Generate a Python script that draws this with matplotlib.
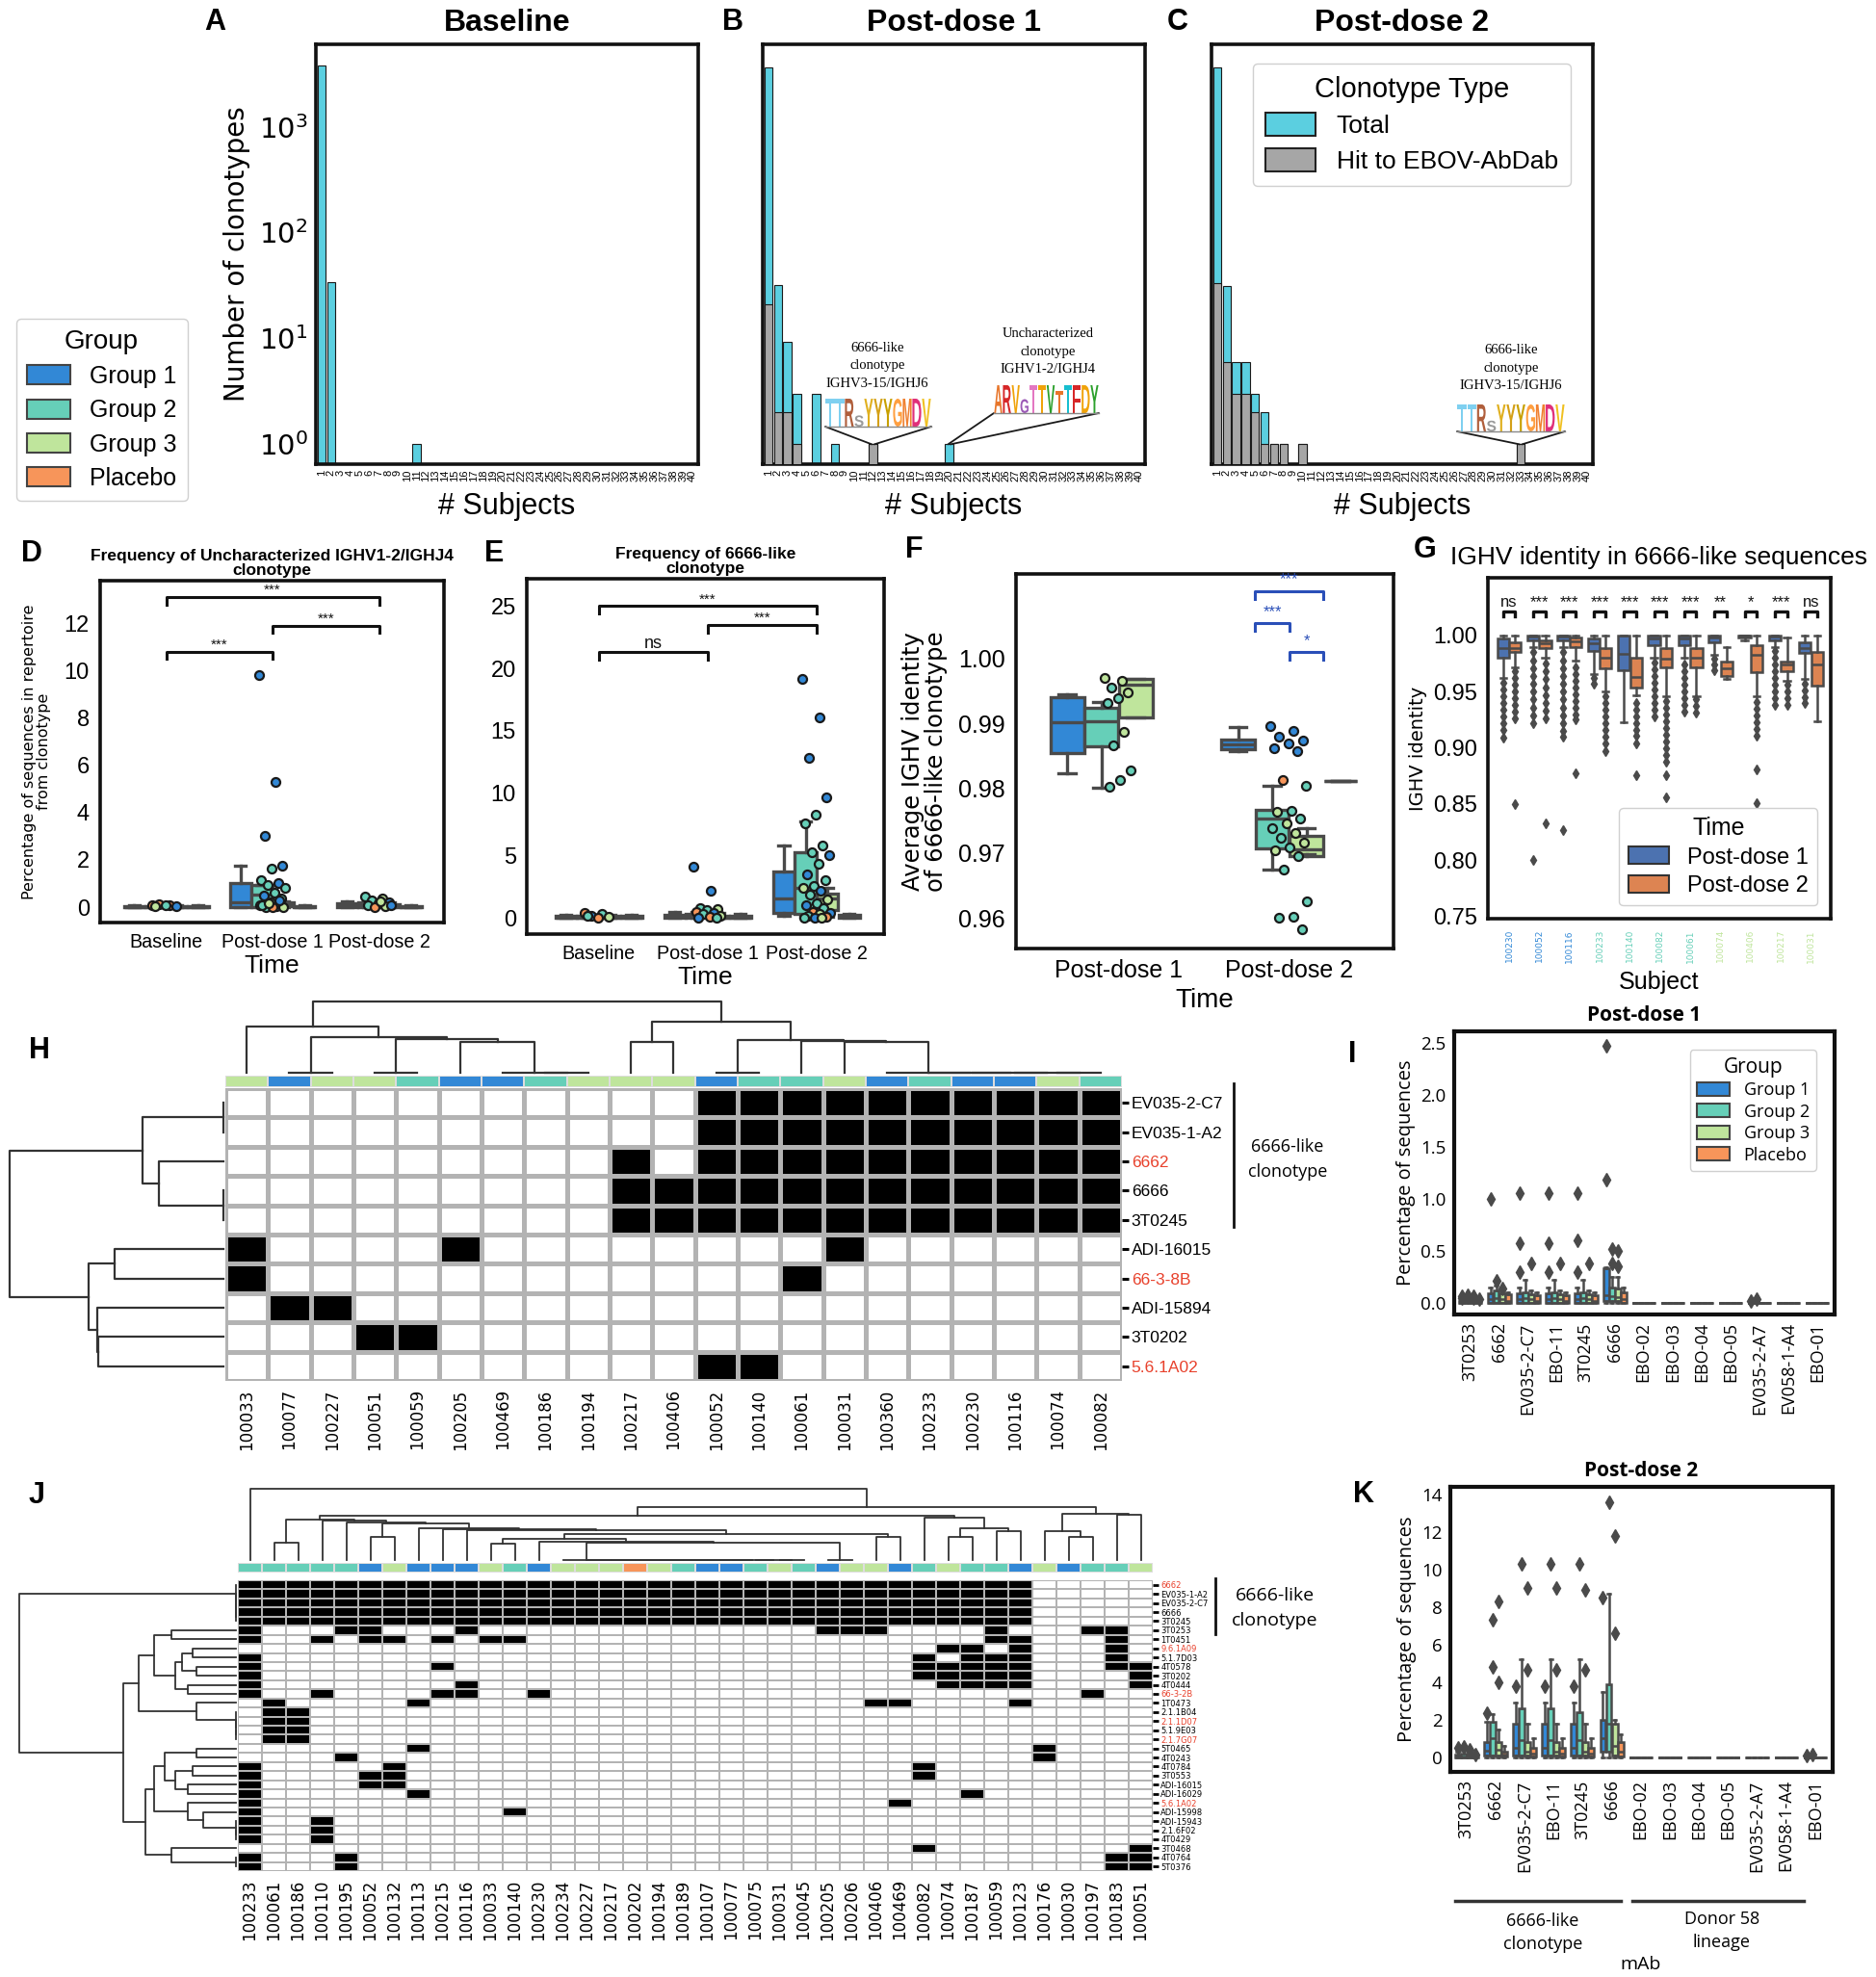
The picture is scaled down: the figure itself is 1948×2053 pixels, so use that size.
import numpy as np
import matplotlib
matplotlib.use('Agg')
import matplotlib.pyplot as plt
import matplotlib.ticker as mticker
import matplotlib.transforms as mtransforms
from matplotlib import font_manager
from matplotlib.patches import Patch, PathPatch
from matplotlib.textpath import TextPath
from matplotlib.font_manager import FontProperties
from matplotlib.colors import ListedColormap
from matplotlib.lines import Line2D

_names = {f.name for f in font_manager.fontManager.ttflist}
HAS_NARROW = 'Liberation Sans Narrow' in _names
NARROW = 'Liberation Sans Narrow' if HAS_NARROW else 'Liberation Sans'
SANS = 'DejaVu Sans'
OPEN = 'Open Sans' if 'Open Sans' in _names else 'DejaVu Sans'
ARIAL = 'Liberation Sans'
SERIF = 'Liberation Serif'
plt.rcParams['mathtext.fontset'] = 'custom'
plt.rcParams['mathtext.rm'] = NARROW
plt.rcParams['mathtext.it'] = NARROW + ':italic'
plt.rcParams['mathtext.bf'] = NARROW + ':bold'

# ---------------- data ----------------
GROUP_NAMES = ['Group 1', 'Group 2', 'Group 3', 'Placebo']
GROUP_COLORS = ['#3288d6', '#66cfb8', '#bfe59c', '#f7955a']
TIME_NAMES = ['Post-dose 1', 'Post-dose 2']
TIME_COLORS = ['#4c72b0', '#dd8452']
CYAN = '#5bcfe0'
HITGRAY = '#a6a6a6'
LINE = '#4a4a4a'
RED = '#e8412c'
SIG_BLUE = '#2a4fb8'

# A-C: number of clonotypes shared by N subjects
subject_bins = list(range(1, 41))
base_total_bins = [1, 2, 11]
base_total = [3800, 34, 1]
base_hit_bins = []
base_hit = []
pd1_total_bins = [1, 2, 3, 4, 6, 8, 12, 20]
pd1_total = [3650, 32, 9.3, 3, 3, 1, 1, 1]
pd1_hit_bins = [1, 2, 3, 4, 12]
pd1_hit = [21, 2, 2, 1, 1]
pd2_total_bins = [1, 2, 3, 4, 5, 6, 7, 8, 10, 33]
pd2_total = [3650, 31, 6, 6, 3, 2, 1, 1, 1, 1]
pd2_hit_bins = [1, 2, 3, 4, 5, 6, 7, 8, 10, 33]
pd2_hit = [33, 6, 3, 3, 2, 1, 1, 1, 1, 1]

logo_6666 = ['T', 'T', 'R', 'S', 'Y', 'Y', 'Y', 'G', 'M', 'D', 'V']
logo_6666_colors = ['#7fd0f0', '#7fd0f0', '#b05f3c', '#9a9a9a', '#e0b020', '#d4a017', '#c8a000',
                    '#ff9f40', '#f08030', '#e0307a', '#f0c020']
logo_6666_heights = [1, 1, 1, 0.4, 1, 1, 1, 1, 1, 1, 1]
logo_unchar = ['A', 'R', 'V', 'G', 'T', 'T', 'V', 'T', 'T', 'F', 'D', 'Y']
logo_unchar_colors = ['#e8762b', '#d62728', '#f0a30a', '#9b59b6', '#e377c2', '#f0a30a',
                      '#2ca02c', '#e8762b', '#17becf', '#d62728', '#f0a30a', '#2ca02c']
logo_unchar_heights = [1, 1, 1, 0.5, 1, 1, 1, 0.8, 1, 1, 1, 1]

time3 = ['Baseline', 'Post-dose 1', 'Post-dose 2']
# D: (q1, median, q3, whisker low, whisker high) per group, per time
d_stats = [
    [(0.0, 0.02, 0.06, 0.0, 0.1), (0.0, 0.02, 0.06, 0.0, 0.1), (0.0, 0.02, 0.06, 0.0, 0.1), (0.0, 0.02, 0.06, 0.0, 0.1)],
    [(0.0, 0.22, 1.0, 0.0, 1.77), (0.0, 0.55, 0.95, 0.0, 0.95), (0.03, 0.1, 0.2, 0.0, 0.25), (0.0, 0.02, 0.06, 0.0, 0.08)],
    [(0.02, 0.08, 0.15, 0.0, 0.25), (0.02, 0.1, 0.2, 0.0, 0.3), (0.0, 0.06, 0.12, 0.0, 0.2), (0.0, 0.02, 0.06, 0.0, 0.1)],
]
d_points = [
    [0.1, 0.08, 0.12, 0.05, 0.1, 0.06],
    [9.8, 5.3, 3.0, 1.77, 1.63, 1.15, 1.0, 0.95, 0.8, 0.6, 0.5, 0.35, 0.2, 0.1, 0.05, 0.02, 0.0, 0.0, 0.1, 0.3, 0.15],
    [0.45, 0.35, 0.3, 0.2, 0.15, 0.1, 0.05, 0.0, 0.1, 0.25],
]
d_point_groups = [
    [3, 3, 3, 0, 1, 2],
    [0, 0, 0, 0, 1, 1, 0, 1, 1, 1, 0, 1, 2, 3, 0, 1, 2, 3, 1, 0, 2],
    [1, 2, 1, 0, 3, 1, 2, 3, 0, 2],
]
d_sig = [(0, 2, 13.1, '***'), (1, 2, 11.9, '***'), (0, 1, 10.8, '***')]

# E: frequency of 6666-like clonotype
e_stats = [
    [(0.0, 0.05, 0.15, 0.0, 0.25), (0.0, 0.05, 0.15, 0.0, 0.25), (0.0, 0.05, 0.15, 0.0, 0.25), (0.0, 0.05, 0.15, 0.0, 0.25)],
    [(0.0, 0.1, 0.25, 0.0, 0.45), (0.0, 0.1, 0.3, 0.0, 0.5), (0.0, 0.05, 0.2, 0.0, 0.4), (0.0, 0.05, 0.15, 0.0, 0.3)],
    [(0.39, 1.54, 3.75, 0.13, 5.78), (0.31, 2.44, 5.3, 0.1, 7.7), (0.64, 1.54, 1.93, 0.1, 2.44), (0.0, 0.1, 0.26, 0.0, 0.35)],
]
e_points = [
    [0.4, 0.3, 0.2, 0.1, 0.05, 0.15],
    [4.1, 2.2, 0.8, 0.7, 0.6, 0.5, 0.4, 0.3, 0.2, 0.1, 0.05, 0.0],
    [19.2, 16.1, 12.8, 9.7, 8.3, 7.6, 5.8, 5.3, 5.0, 4.3, 3.5, 3.0, 2.6, 2.4, 2.2, 1.9, 1.5,
     1.2, 1.0, 0.8, 0.5, 0.4, 0.3, 0.2, 0.1, 0.05, 0.0, 0.0],
]
e_point_groups = [
    [3, 1, 0, 2, 3, 1],
    [0, 0, 1, 2, 1, 3, 0, 1, 2, 3, 0, 1],
    [0, 0, 0, 0, 1, 1, 1, 1, 0, 1, 0, 1, 1, 2, 0, 1, 2, 1, 0, 1, 3, 0, 2, 1, 3, 0, 1, 2],
]
e_sig = [(0, 2, 25.0, '***'), (1, 2, 23.5, '***'), (0, 1, 21.3, 'ns')]

# F: average IGHV identity of 6666-like clonotype
f_stats = [
    [(0.98543, 0.99012, 0.99407, 0.98237, 0.99447), (0.98642, 0.99027, 0.99235, 0.98, 0.99333),
     (0.99086, 0.9960, 0.99689, 0.99086, 0.99689), None],
    [(0.9860, 0.9867, 0.9875, 0.9857, 0.9894), (0.97077, 0.97531, 0.97664, 0.9675, 0.9804),
     (0.96948, 0.97062, 0.97259, 0.9698, 0.97383), (0.9811, 0.9811, 0.9811, 0.9811, 0.9811)],
]
f_points = [
    [0.99694, 0.99654, 0.99556, 0.99481, 0.99383, 0.99309, 0.98874, 0.98657, 0.98272, 0.98123, 0.98025],
    [0.98963, 0.98889, 0.9879, 0.9874, 0.9869, 0.9862, 0.9857, 0.98123, 0.9804, 0.97654, 0.9763,
     0.9753, 0.9746, 0.9738, 0.9731, 0.9723, 0.9716, 0.9709, 0.9704, 0.9696, 0.9674, 0.9625,
     0.96025, 0.9600, 0.9583],
]
f_point_groups = [
    [2, 2, 1, 2, 1, 1, 2, 1, 1, 1, 1],
    [0, 0, 0, 0, 0, 0, 0, 3, 1, 1, 2, 1, 2, 1, 2, 1, 2, 1, 2, 1, 1, 1, 1, 1, 1],
]
f_sig = [(-0.2, 0.2, 1.0104, '***'), (-0.2, 0.0, 1.0054, '***'), (0.0, 0.2, 1.0010, '*')]

# G: IGHV identity per subject
g_subjects = ['100230', '100052', '100116', '100233', '100140', '100082', '100061',
              '100074', '100406', '100217', '100031']
g_subject_group = [0, 0, 0, 1, 1, 1, 1, 2, 2, 2, 2]
g_sig = ['ns', '***', '***', '***', '***', '***', '***', '**', '*', '***', 'ns']
g_pd1 = [(0.980, 0.989, 0.997, 0.962, 1.0), (0.996, 0.999, 1.0, 0.99, 1.0), (0.996, 0.999, 1.0, 0.99, 1.0),
         (0.986, 0.993, 0.997, 0.966, 1.0), (0.969, 0.984, 1.0, 0.923, 1.0), (0.9914, 0.997, 1.0, 0.98, 1.0),
         (0.9914, 0.997, 1.0, 0.98, 1.0), (0.9943, 0.998, 1.0, 0.983, 1.0), (0.9986, 1.0, 1.0, 0.996, 1.0),
         (0.9957, 0.999, 1.0, 0.99, 1.0), (0.9843, 0.9886, 0.9943, 0.961, 1.0)]
g_pd1_fliers = [[0.958, 0.952, 0.946, 0.94, 0.934, 0.928, 0.922, 0.916, 0.909],
                [0.985, 0.978, 0.971, 0.964, 0.957, 0.95, 0.943, 0.936, 0.929, 0.922, 0.80],
                [0.985, 0.978, 0.971, 0.964, 0.957, 0.95, 0.943, 0.936, 0.929, 0.922, 0.915, 0.91, 0.827],
                [0.962, 0.957],
                [],
                [0.976, 0.97, 0.964, 0.958, 0.952, 0.946, 0.94, 0.934, 0.928],
                [0.974, 0.968, 0.962, 0.956, 0.95, 0.944, 0.938, 0.932],
                [0.979, 0.974, 0.969],
                [],
                [0.986, 0.98, 0.974, 0.968, 0.962, 0.956, 0.95, 0.944, 0.938],
                [0.957, 0.951, 0.945, 0.94]]
g_pd2 = [(0.985, 0.989, 0.994, 0.972, 1.0), (0.989, 0.993, 0.996, 0.98, 1.0), (0.990, 0.995, 0.9986, 0.978, 1.0),
         (0.971, 0.98, 0.9886, 0.95, 1.0), (0.954, 0.963, 0.98, 0.947, 1.0), (0.9714, 0.979, 0.9886, 0.946, 1.0),
         (0.9714, 0.98, 0.9886, 0.946, 1.0), (0.964, 0.971, 0.977, 0.961, 0.99), (0.967, 0.983, 0.9914, 0.946, 1.0),
         (0.9686, 0.974, 0.977, 0.96, 0.998), (0.9557, 0.974, 0.9857, 0.924, 1.0)]
g_pd2_fliers = [[0.968, 0.962, 0.956, 0.95, 0.944, 0.938, 0.932, 0.926, 0.85],
                [0.975, 0.968, 0.961, 0.954, 0.947, 0.94, 0.933, 0.926, 0.833],
                [0.972, 0.966, 0.96, 0.954, 0.948, 0.942, 0.936, 0.93, 0.925, 0.877],
                [0.946, 0.94, 0.934, 0.928, 0.922, 0.916, 0.91, 0.904, 0.897],
                [0.94, 0.934, 0.928, 0.922, 0.916, 0.911, 0.904, 0.876],
                [0.942, 0.936, 0.93, 0.924, 0.918, 0.912, 0.906, 0.9, 0.894, 0.888, 0.876, 0.856],
                [0.943, 0.937, 0.931],
                [],
                [0.941, 0.935, 0.929, 0.923, 0.917, 0.911, 0.881, 0.851],
                [0.956, 0.95, 0.944, 0.938],
                []]

# H: EBOV-AbDab hits per subject, post-dose 1
h_cols = ['100033', '100077', '100227', '100051', '100059', '100205', '100469', '100186', '100194', '100217',
          '100406', '100052', '100140', '100061', '100031', '100360', '100233', '100230', '100116', '100074', '100082']
h_col_group = [2, 0, 2, 2, 1, 0, 0, 1, 2, 2, 2, 0, 1, 1, 2, 0, 1, 0, 0, 2, 1]
h_rows = ['EV035-2-C7', 'EV035-1-A2', '6662', '6666', '3T0245', 'ADI-16015', '66-3-8B', 'ADI-15894',
          '3T0202', '5.6.1A02']
h_red_rows = [2, 6, 9]
h_black = [
    [11, 12, 13, 14, 15, 16, 17, 18, 19, 20],
    [11, 12, 13, 14, 15, 16, 17, 18, 19, 20],
    [9, 11, 12, 13, 14, 15, 16, 17, 18, 19, 20],
    [9, 10, 11, 12, 13, 14, 15, 16, 17, 18, 19, 20],
    [9, 10, 11, 12, 13, 14, 15, 16, 17, 18, 19, 20],
    [0, 5, 14],
    [0, 13],
    [1, 2],
    [3, 4],
    [11, 12],
]

# J: EBOV-AbDab hits per subject, post-dose 2
j_cols = ['100233', '100061', '100186', '100110', '100195', '100052', '100132', '100113', '100215', '100116',
          '100033', '100140', '100230', '100234', '100227', '100217', '100202', '100194', '100189', '100107',
          '100077', '100075', '100031', '100045', '100205', '100206', '100406', '100469', '100082', '100074',
          '100187', '100059', '100123', '100176', '100030', '100197', '100183', '100051']
j_col_group = [1, 1, 1, 1, 1, 0, 2, 0, 0, 0, 2, 1, 0, 2, 2, 2, 3, 2, 1, 0, 0, 1, 2, 1, 0, 2, 2, 0, 1, 2,
               1, 1, 0, 2, 0, 1, 1, 2]
j_rows = ['6662', 'EV035-1-A2', 'EV035-2-C7', '6666', '3T0245', '3T0253', '1T0451', '9.6.1A09', '5.1.7D03',
          '4T0578', '3T0202', '4T0444', '66-3-2B', '1T0473', '2.1.1B04', '2.1.1D07', '5.1.9E03', '2.1.7G07',
          '5T0465', '4T0243', '4T0784', '3T0553', 'ADI-16015', 'ADI-16029', '5.6.1A02', 'ADI-15998',
          'ADI-15943', '2.1.6F02', '4T0429', '3T0468', '4T0764', '5T0376']
j_red_rows = [0, 7, 12, 15, 17, 24]
j_clonotype_cols = list(range(33))
j_black = [
    j_clonotype_cols, j_clonotype_cols, j_clonotype_cols, j_clonotype_cols, j_clonotype_cols,
    [0, 4, 5, 9, 24, 25, 26, 31, 35, 36],
    [0, 3, 5, 6, 8, 10, 11, 31, 32, 36],
    [29, 30, 32, 36],
    [0, 28, 30, 31, 32, 36],
    [0, 8, 28, 29, 30, 31, 32, 36, 37],
    [0, 28, 29, 30, 31, 32, 37],
    [0, 9, 29, 30, 31, 32, 37],
    [0, 3, 8, 9, 12, 35],
    [1, 7, 26, 27, 32],
    [1, 2], [1, 2], [1, 2], [1, 2],
    [7, 33],
    [4, 33],
    [0, 6, 28],
    [0, 5, 6, 28],
    [0, 5, 6],
    [0, 7, 30],
    [0, 27],
    [0, 11],
    [0, 3], [0, 3], [0, 3],
    [28, 37],
    [0, 4, 36, 37],
    [0, 4, 36, 37],
]


def zchain(leaves):
    if len(leaves) == 1:
        return leaves[0]
    return [leaves[0], zchain(leaves[1:]), 0.0]


# dendrograms: [left, right, height]
h_col_tree = [[0, [[1, 2, 0.0], [[3, 4, 0.0], [5, zchain([6, 7, 8]), 0.427], 0.471], 0.502], 0.648],
              [[9, 10, 0.427], [[11, 12, 0.0], [13, [14, zchain([15, 16, 17, 18, 19, 20]), 0.427], 0.449], 0.463], 0.714],
              1.0]
h_row_tree = [[[0, 1, 0.0], [2, [3, 4, 0.0], 0.30], 0.38],
              [[5, 6, 0.51], [7, [8, 9, 0.585], 0.59], 0.63], 1.0]
_j818 = [zchain(list(range(13, 24))), [24, 25, 0.0], 0.245]
_j840 = [[[10, 11, 0.235], [12, _j818, 0.26], 0.30], [26, 27, 0.33], 0.37]
_j150 = [[1, 2, 0.24], [3, [4, [[5, 6, 0.33], [7, [8, [9, _j840, 0.42], 0.435], 0.45], 0.51], 0.53], 0.56], 0.57]
_j1225 = [28, [[29, 30, 0.33], [31, 32, 0.41], 0.45], 0.60]
_jR = [[33, [34, 35, 0.33], 0.40], [36, 37, 0.636], 0.65]
j_col_tree = [0, [[_j150, _j1225, 0.627], _jR, 0.747], 1.0]
_jA1 = [[5, 6, 0.30], [[[7, 8, 0.2], [9, 10, 0.18], 0.25], [11, 12, 0.22], 0.28], 0.38]
_jA2 = [13, zchain([14, 15, 16, 17]), 0.18]
_jA3 = [[18, 19, 0.18], [[20, 21, 0.2], [22, 23, 0.22], 0.28], 0.33]
_jA4 = [24, [25, zchain([26, 27, 28]), 0.15], 0.22]
_jA5 = [29, [30, 31, 0.0], 0.30]
j_row_tree = [zchain([0, 1, 2, 3, 4]), [[_jA1, _jA2, 0.45], [[_jA3, _jA4, 0.38], _jA5, 0.42], 0.52], 1.0]

# I / K: percentage of sequences matching each mAb, by group
mabs = ['3T0253', '6662', 'EV035-2-C7', 'EBO-11', '3T0245', '6666', 'EBO-02', 'EBO-03', 'EBO-04', 'EBO-05',
        'EV035-2-A7', 'EV058-1-A4', 'EBO-01']
Z = (0.0, 0.0, 0.0, 0.0, 0.0)
i_stats = [
    [(0, 0.005, 0.015, 0, 0.03), (0, 0.005, 0.015, 0, 0.03), (0, 0.005, 0.015, 0, 0.03), (0, 0.005, 0.01, 0, 0.02)],
    [(0, 0.03, 0.09, 0, 0.15), (0, 0.04, 0.12, 0, 0.16), (0, 0.03, 0.09, 0, 0.12), (0, 0.02, 0.08, 0, 0.1)],
    [(0, 0.03, 0.09, 0, 0.15), (0, 0.04, 0.1, 0, 0.22), (0, 0.03, 0.08, 0, 0.12), (0, 0.02, 0.07, 0, 0.1)],
    [(0, 0.03, 0.09, 0, 0.15), (0, 0.04, 0.1, 0, 0.22), (0, 0.03, 0.08, 0, 0.12), (0, 0.02, 0.07, 0, 0.1)],
    [(0, 0.03, 0.09, 0, 0.15), (0, 0.04, 0.1, 0, 0.22), (0, 0.03, 0.08, 0, 0.12), (0, 0.02, 0.07, 0, 0.1)],
    [(0.02, 0.07, 0.33, 0, 0.34), (0.02, 0.06, 0.15, 0, 0.25), (0.02, 0.05, 0.14, 0, 0.25), (0, 0.03, 0.1, 0, 0.15)],
    [Z, Z, Z, Z], [Z, Z, Z, Z], [Z, Z, Z, Z], [Z, Z, Z, Z], [Z, Z, Z, Z], [Z, Z, Z, Z], [Z, Z, Z, Z],
]
i_fliers = [
    [[0.04, 0.06], [0.05, 0.07], [0.06, 0.04], [0.03]],
    [[1.0], [0.21], [0.14], []],
    [[1.05, 0.57, 0.29], [], [0.38], []],
    [[1.05, 0.57, 0.29], [], [0.38], []],
    [[1.05, 0.6, 0.29], [], [0.38], []],
    [[2.47, 1.18], [0.52, 0.38], [0.5, 0.35], []],
    [[], [], [], []], [[], [], [], []], [[], [], [], []], [[], [], [], []],
    [[0.02], [0.03], [], []], [[], [], [], []], [[], [], [], []],
]
k_stats = [
    [(0, 0.05, 0.15, 0, 0.3), (0, 0.05, 0.2, 0, 0.35), (0, 0.05, 0.15, 0, 0.3), (0, 0.02, 0.05, 0, 0.1)],
    [(0.1, 0.35, 0.8, 0, 1.9), (0.1, 1.0, 1.9, 0, 2.3), (0.1, 0.4, 0.8, 0, 1.5), (0.05, 0.15, 0.3, 0, 0.6)],
    [(0.1, 0.5, 1.8, 0, 2.9), (0.1, 0.9, 2.6, 0, 5.2), (0.1, 0.3, 0.8, 0, 1.8), (0.05, 0.2, 0.5, 0, 1.0)],
    [(0.1, 0.5, 1.8, 0, 2.9), (0.1, 0.9, 2.6, 0, 5.2), (0.1, 0.3, 0.8, 0, 1.8), (0.05, 0.2, 0.5, 0, 1.0)],
    [(0.1, 0.5, 1.8, 0, 2.9), (0.1, 0.9, 2.4, 0, 5.2), (0.1, 0.3, 0.8, 0, 1.8), (0.05, 0.2, 0.5, 0, 1.0)],
    [(0.3, 1.0, 2.0, 0, 3.5), (0.3, 1.8, 3.9, 0, 8.7), (0.1, 0.6, 1.8, 0, 2.0), (0.05, 0.3, 0.8, 0, 1.2)],
    [Z, Z, Z, Z], [Z, Z, Z, Z], [Z, Z, Z, Z], [Z, Z, Z, Z], [Z, Z, Z, Z], [Z, Z, Z, Z], [Z, Z, Z, Z],
]
k_fliers = [
    [[0.5], [0.55], [0.4], [0.15]],
    [[2.33], [7.3, 4.8], [8.3, 4.0], []],
    [[3.8], [10.3], [9.0, 4.65], []],
    [[3.8], [10.3], [9.0, 4.65], []],
    [[3.8], [10.3], [8.9, 4.65], []],
    [[8.5], [13.6], [11.8, 6.6], []],
    [[], [], [], []], [[], [], [], []], [[], [], [], []], [[], [], [], []],
    [[], [], [], []], [[], [], [], []], [[0.1], [0.15], [], []],
]

# ---------------- layout helpers ----------------
W, H = 1949, 2053
fig = plt.figure(figsize=(W / 100, H / 100), dpi=100)
TICK3_FS = 17 if HAS_NARROW else 14.2


def px_rect(x0, y0, x1, y1):
    return [x0 / W, 1 - y1 / H, (x1 - x0) / W, (y1 - y0) / H]


def fxy(x, y):
    return (x / W, 1 - y / H)


def frame(ax, lw=2.6):
    for s in ax.spines.values():
        s.set_linewidth(lw)
        s.set_color('#111111')


def letter(x, y, s):
    fig.text(*fxy(x, y), s, fontsize=22, fontweight='bold', family=ARIAL, ha='left', va='top')


def draw_boxes(ax, stats, colors, width, lw=2.2, fliers=None, fsize=6, capw=0.5):
    nh = len(colors)
    offs = (np.arange(nh) - (nh - 1) / 2) * width
    for ci, cat in enumerate(stats):
        for gi, st in enumerate(cat):
            if st is None:
                continue
            q1, med, q3, lo, whi = st
            fl = fliers[ci][gi] if fliers is not None else []
            d = dict(q1=q1, med=med, q3=q3, whislo=lo, whishi=whi, fliers=fl)
            ax.bxp([d], positions=[ci + offs[gi]], widths=width * 0.98, patch_artist=True,
                   showfliers=True, manage_ticks=False, capwidths=width * capw,
                   boxprops=dict(facecolor=colors[gi], edgecolor=LINE, linewidth=lw),
                   whiskerprops=dict(color=LINE, linewidth=lw), capprops=dict(color=LINE, linewidth=lw),
                   medianprops=dict(color=LINE, linewidth=lw),
                   flierprops=dict(marker='d', markerfacecolor=LINE, markeredgecolor=LINE,
                                   markersize=fsize, linestyle='none'))


def strip(ax, x0, vals, groups, spread, size=7):
    for i, (v, g) in enumerate(zip(vals, groups)):
        off = (((i * 0.618) % 1.0) - 0.5) * spread
        ax.plot(x0 + off, v, 'o', ms=size, mfc=GROUP_COLORS[g], mec='#1a1a1a', mew=1.6, zorder=5)


def bracket(ax, x1, x2, y, h, text, color='#111111', fs=11, lw=2.2, tpad=0.0, family=NARROW):
    ax.plot([x1, x1, x2, x2], [y - h, y, y, y - h], color=color, lw=lw, clip_on=False, zorder=6)
    ax.text((x1 + x2) / 2, y + tpad, text, ha='center', va='bottom', fontsize=fs, color=color,
            family=family, clip_on=False)


def dendro_segments(tree, leafpos):
    segs = []

    def rec(t):
        if isinstance(t, int):
            return leafpos[t], 0.0
        xl, hl = rec(t[0])
        xr, hr = rec(t[1])
        h = t[2]
        segs.append(([xl, xl, xr, xr], [hl, h, h, hr]))
        return (xl + xr) / 2, h

    rec(tree)
    return segs


def draw_logo(rect, letters, colors, heights):
    lax = fig.add_axes(px_rect(*rect))
    lax.set_xlim(0, len(letters))
    lax.set_ylim(0, 1)
    lax.axis('off')
    fp = FontProperties(family=ARIAL, weight='bold')
    for i, (ch, c, hh) in enumerate(zip(letters, colors, heights)):
        tp = TextPath((0, 0), ch, size=1, prop=fp)
        bb = tp.get_extents()
        tr = mtransforms.Affine2D().translate(-bb.x0, -bb.y0).scale(0.92 / bb.width, hh / bb.height).translate(i + 0.04, 0)
        lax.add_patch(PathPatch(tr.transform_path(tp), facecolor=c, edgecolor='none'))
    lax.plot([0, len(letters)], [0, 0], color='#888888', lw=1.0, clip_on=False)


def callout(ax, bin_x, val, text, text_xy, logo_rect, letters, colors, heights):
    fig.text(*fxy(*text_xy), text, ha='center', va='top', fontsize=10.5, family=SERIF, linespacing=1.55)
    draw_logo(logo_rect, letters, colors, heights)
    x0, y0, x1, y1 = logo_rect
    for lx, dx in ((x0, -0.12), (x1, 0.12)):
        ax.annotate('', xy=(bin_x + dx, val), xycoords='data', xytext=fxy(lx, y1),
                    textcoords='figure fraction',
                    arrowprops=dict(arrowstyle='-', color='#1a1a1a', lw=1.3, shrinkA=0, shrinkB=0))


# ---------------- A-C ----------------
hist_rects = [(328, 46, 725, 482), (792, 46, 1189, 482), (1258, 46, 1654, 482)]
hist_sets = [('Baseline', base_total_bins, base_total, base_hit_bins, base_hit),
             ('Post-dose 1', pd1_total_bins, pd1_total, pd1_hit_bins, pd1_hit),
             ('Post-dose 2', pd2_total_bins, pd2_total, pd2_hit_bins, pd2_hit)]
hist_axes = []
for k, (title, tb, tv, hb, hv) in enumerate(hist_sets):
    ax = fig.add_axes(px_rect(*hist_rects[k]))
    ax.bar(tb, tv, width=0.85, color=CYAN, edgecolor='#1a1a1a', linewidth=0.8, zorder=2)
    if hb:
        ax.bar(hb, hv, width=0.85, color=HITGRAY, edgecolor='#1a1a1a', linewidth=0.8, zorder=3)
    ax.set_yscale('log')
    ax.set_ylim(0.65, 6000)
    ax.set_xlim(0.4, 40.6)
    ax.set_xticks(subject_bins)
    ax.set_xticklabels([str(b) for b in subject_bins], rotation=90, fontsize=8, family=NARROW)
    ax.set_yticks([1, 10, 100, 1000])
    ax.yaxis.set_minor_locator(mticker.NullLocator())
    ax.tick_params(length=0, pad=4)
    ax.tick_params(axis='y', labelsize=21, pad=6)
    if k > 0:
        ax.set_yticklabels([])
    ax.set_title(title, fontsize=23, fontweight='bold', family=NARROW, pad=10)
    ax.set_xlabel('# Subjects', fontsize=22, family=NARROW, labelpad=8)
    frame(ax)
    hist_axes.append(ax)
hist_axes[0].set_ylabel('Number of clonotypes', fontsize=20, family=SANS, labelpad=6)
letter(212, 8, 'A')
letter(750, 8, 'B')
letter(1212, 8, 'C')

callout(hist_axes[1], 12, 1, '6666-like\nclonotype\nIGHV3-15/IGHJ6', (911, 355),
        (857, 414, 967, 443), logo_6666, logo_6666_colors, logo_6666_heights)
callout(hist_axes[1], 20, 1, 'Uncharacterized\nclonotype\nIGHV1-2/IGHJ4', (1088, 340),
        (1032, 400, 1141, 429), logo_unchar, logo_unchar_colors, logo_unchar_heights)
callout(hist_axes[2], 33, 1, '6666-like\nclonotype\nIGHV3-15/IGHJ6', (1569, 357),
        (1513, 420, 1625, 448), logo_6666, logo_6666_colors, logo_6666_heights)

hist_axes[2].legend(handles=[Patch(facecolor=CYAN, edgecolor='#222222', linewidth=1.5),
                             Patch(facecolor=HITGRAY, edgecolor='#222222', linewidth=1.5)],
                    labels=['Total', 'Hit to EBOV-AbDab'], title='Clonotype Type', loc='upper right',
                    bbox_to_anchor=(0.975, 0.985), prop=dict(family=NARROW, size=19),
                    title_fontproperties=dict(family=NARROW, size=21), handlelength=2.0,
                    handleheight=1.0, labelspacing=0.4, borderpad=0.5, framealpha=1,
                    edgecolor='#d0d0d0')

fig.legend(handles=[Patch(facecolor=c, edgecolor='#444444', linewidth=1.5) for c in GROUP_COLORS],
           labels=GROUP_NAMES, title='Group', loc='upper left', bbox_to_anchor=fxy(4, 318),
           prop=dict(family=NARROW, size=18), title_fontproperties=dict(family=NARROW, size=20),
           handlelength=1.8, handleheight=0.85, labelspacing=0.45, borderpad=0.45, framealpha=1,
           edgecolor='#d0d0d0')


# ---------------- D, E ----------------
def time_panel(rect, stats, points, pgroups, sigs, title, ylim, yticks, xlim, ylabel, sig_h, sig_pad):
    ax = fig.add_axes(px_rect(*rect))
    draw_boxes(ax, stats, GROUP_COLORS, 0.2, lw=2.4)
    for t in range(3):
        strip(ax, t, points[t], pgroups[t], 0.26, size=6.5)
    for x1, x2, y, txt in sigs:
        bracket(ax, x1, x2, y, sig_h, txt, fs=11 if txt != 'ns' else 13, tpad=sig_pad)
    ax.set_xlim(*xlim)
    ax.set_ylim(*ylim)
    ax.set_xticks(range(3))
    ax.set_xticklabels(time3, fontsize=TICK3_FS, family=NARROW)
    ax.set_yticks(yticks)
    ax.set_yticklabels([str(v) for v in yticks], fontsize=17, family=NARROW)
    ax.tick_params(length=0, pad=8)
    ax.set_xlabel('Time', fontsize=19, family=NARROW, labelpad=2)
    if ylabel:
        ax.set_ylabel(ylabel, fontsize=11.5, family=SANS, labelpad=10, linespacing=1.0)
    ax.set_title(title, fontsize=12.5, fontweight='bold', family=NARROW, pad=4, linespacing=1.05)
    frame(ax)
    return ax


time_panel((104, 603, 461, 958), d_stats, d_points, d_point_groups, d_sig,
           'Frequency of Uncharacterized IGHV1-2/IGHJ4\nclonotype', (-0.65, 13.8), [0, 2, 4, 6, 8, 10, 12],
           (-0.62, 2.61), 'Percentage of sequences in repertoire\nfrom clonotype', 0.3, 0.0)
time_panel((547, 601, 918, 970), e_stats, e_points, e_point_groups, e_sig,
           'Frequency of 6666-like\nclonotype', (-1.3, 27.2), [0, 5, 10, 15, 20, 25],
           (-0.66, 2.62), None, 0.6, 0.0)
letter(22, 560, 'D')
letter(503, 560, 'E')

# ---------------- F ----------------
axF = fig.add_axes(px_rect(1055, 596, 1447, 985))
draw_boxes(axF, f_stats, GROUP_COLORS, 0.2, lw=2.4)
for t in range(2):
    strip(axF, t, f_points[t], f_point_groups[t], 0.22 if t == 1 else 0.16, size=6.5)
for x1, x2, y, txt in f_sig:
    bracket(axF, 1 + x1, 1 + x2, y, 0.0012, txt, color=SIG_BLUE, fs=12, lw=2.2, tpad=0.0006)
axF.set_xlim(-0.6, 1.61)
axF.set_ylim(0.9553, 1.013)
axF.set_xticks([0, 1])
axF.set_xticklabels(TIME_NAMES, fontsize=18, family=NARROW)
axF.set_yticks([0.96, 0.97, 0.98, 0.99, 1.00])
axF.set_yticklabels(['0.96', '0.97', '0.98', '0.99', '1.00'], fontsize=18, family=NARROW)
axF.tick_params(length=0, pad=8)
axF.set_xlabel('Time', fontsize=20, family=NARROW, labelpad=4)
axF.set_ylabel('Average IGHV identity\nof 6666-like clonotype', fontsize=17.5, family=SANS, labelpad=8,
               linespacing=1.0)
frame(axF)
letter(940, 556, 'F')

# ---------------- G ----------------
axG = fig.add_axes(px_rect(1545, 600, 1901, 954))
g_all = [[g_pd1[i], g_pd2[i]] for i in range(len(g_subjects))]
g_all_fl = [[g_pd1_fliers[i], g_pd2_fliers[i]] for i in range(len(g_subjects))]
draw_boxes(axG, g_all, TIME_COLORS, 0.4, lw=1.8, fliers=g_all_fl, fsize=5.5)
for i, s in enumerate(g_sig):
    bracket(axG, i - 0.2, i + 0.2, 1.0214, 0.0044, s, fs=12, lw=2.4, tpad=0.002)
axG.set_xlim(-0.7, 10.65)
axG.set_ylim(0.748, 1.0514)
axG.set_xticks(range(len(g_subjects)))
axG.set_xticklabels(g_subjects, rotation=90, fontsize=6.5, family=SANS)
for lab, g in zip(axG.get_xticklabels(), g_subject_group):
    lab.set_color(GROUP_COLORS[g])
axG.set_yticks([0.75, 0.80, 0.85, 0.90, 0.95, 1.00])
axG.set_yticklabels(['0.75', '0.80', '0.85', '0.90', '0.95', '1.00'], fontsize=17, family=NARROW)
axG.tick_params(length=0, pad=8)
axG.set_xlabel('Subject', fontsize=18, family=NARROW, labelpad=6)
axG.set_ylabel('IGHV identity', fontsize=14, family=SANS, labelpad=4)
axG.set_title('IGHV identity in 6666-like sequences', fontsize=19, family=NARROW, pad=10)
axG.legend(handles=[Patch(facecolor=c, edgecolor='#333333', linewidth=1.5) for c in TIME_COLORS],
           labels=TIME_NAMES, title='Time', loc='lower right', bbox_to_anchor=(0.995, 0.005),
           prop=dict(family=NARROW, size=17), title_fontproperties=dict(family=NARROW, size=18),
           handlelength=1.8, handleheight=0.8, labelspacing=0.3, borderpad=0.4, framealpha=1,
           edgecolor='#d0d0d0')
frame(axG)
letter(1468, 556, 'G')


# ---------------- heatmaps ----------------
def heatmap(grid_rect, bar_rect, top_rect, left_rect, cols, col_group, rows, red_rows, black,
            col_tree, row_tree, grid_lw, row_fs, row_family, col_fs, dlw, tick_len, tick_w):
    nr, nc = len(rows), len(cols)
    mat = np.zeros((nr, nc))
    for r, cl in enumerate(black):
        mat[r, cl] = 1
    ax = fig.add_axes(px_rect(*grid_rect))
    ax.pcolormesh(mat, cmap=ListedColormap(['white', 'black']), vmin=0, vmax=1,
                  edgecolors='#b3b3b3', linewidth=grid_lw)
    ax.set_xlim(0, nc)
    ax.set_ylim(nr, 0)
    ax.set_xticks(np.arange(nc) + 0.5)
    ax.set_xticklabels(cols, rotation=90, fontsize=col_fs, family=SANS)
    ax.yaxis.tick_right()
    ax.set_yticks(np.arange(nr) + 0.5)
    ax.set_yticklabels(rows, fontsize=row_fs, family=row_family)
    for i, lab in enumerate(ax.get_yticklabels()):
        if i in red_rows:
            lab.set_color(RED)
    ax.tick_params(axis='x', length=0, pad=6)
    ax.tick_params(axis='y', length=tick_len, width=tick_w, pad=2)
    for s in ax.spines.values():
        s.set_visible(False)

    bax = fig.add_axes(px_rect(*bar_rect))
    bax.pcolormesh(np.array([col_group]), cmap=ListedColormap(GROUP_COLORS), vmin=-0.5, vmax=3.5,
                   edgecolors='#dddddd', linewidth=1.2)
    bax.set_xlim(0, nc)
    bax.axis('off')

    tax = fig.add_axes(px_rect(*top_rect))
    for xs, hs in dendro_segments(col_tree, np.arange(nc) + 0.5):
        tax.plot(xs, hs, color='#333333', lw=dlw, clip_on=False)
    tax.set_xlim(0, nc)
    tax.set_ylim(0, 1.0)
    tax.axis('off')

    lax = fig.add_axes(px_rect(*left_rect))
    for ys, hs in dendro_segments(row_tree, np.arange(nr) + 0.5):
        lax.plot(hs, ys, color='#333333', lw=dlw, clip_on=False)
    lax.set_ylim(nr, 0)
    lax.set_xlim(1.0, 0)
    lax.axis('off')
    return ax


heatmap((234, 1130, 1165, 1434), (234, 1117, 1165, 1129), (234, 1040, 1165, 1114), (10, 1130, 232, 1434),
        h_cols, h_col_group, h_rows, h_red_rows, h_black, h_col_tree, h_row_tree,
        2.2, 12.5, NARROW, 12, 1.6, 5, 2.2)
fig.add_artist(Line2D([1281 / W, 1281 / W], [1 - 1125 / H, 1 - 1274 / H], color='#111111', lw=2))
fig.text(*fxy(1337, 1204), '6666-like\nclonotype', ha='center', va='center', fontsize=13, family=OPEN,
         linespacing=1.5)
letter(30, 1076, 'H')

heatmap((247, 1641, 1197, 1943), (247, 1623, 1197, 1633), (247, 1546, 1197, 1620), (20, 1641, 245, 1943),
        j_cols, j_col_group, j_rows, j_red_rows, j_black, j_col_tree, j_row_tree,
        1.4, 6.0, SANS, 12, 1.3, 4, 2.0)
fig.add_artist(Line2D([1262 / W, 1262 / W], [1 - 1639 / H, 1 - 1697 / H], color='#111111', lw=2))
fig.text(*fxy(1324, 1670), '6666-like\nclonotype', ha='center', va='center', fontsize=14, family=OPEN,
         linespacing=1.5)
letter(30, 1538, 'J')


# ---------------- I, K ----------------
def mab_panel(rect, title, stats, fliers, ylim, yticks, ytl):
    ax = fig.add_axes(px_rect(*rect))
    draw_boxes(ax, stats, GROUP_COLORS, 0.2, lw=1.8, fliers=fliers, fsize=7)
    ax.set_xlim(-0.55, 12.6)
    ax.set_ylim(*ylim)
    ax.set_xticks(range(len(mabs)))
    ax.set_xticklabels(mabs, rotation=90, fontsize=13, family=OPEN)
    ax.set_yticks(yticks)
    ax.set_yticklabels(ytl, fontsize=13.5, family=OPEN)
    ax.tick_params(length=0, pad=6)
    ax.set_ylabel('Percentage of sequences', fontsize=14.5, family=OPEN, labelpad=4)
    ax.set_title(title, fontsize=15, fontweight='bold', family=OPEN, pad=8)
    frame(ax, 3.0)
    return ax


axI = mab_panel((1510, 1071, 1905, 1365), 'Post-dose 1', i_stats, i_fliers, (-0.114, 2.61),
                [0.0, 0.5, 1.0, 1.5, 2.0, 2.5], ['0.0', '0.5', '1.0', '1.5', '2.0', '2.5'])
axI.legend(handles=[Patch(facecolor=c, edgecolor='#444444', linewidth=1.5) for c in GROUP_COLORS],
           labels=GROUP_NAMES, title='Group', loc='upper right', bbox_to_anchor=(0.975, 0.965),
           prop=dict(family=OPEN, size=13), title_fontproperties=dict(family=OPEN, size=15),
           handlelength=1.9, handleheight=0.8, labelspacing=0.25, borderpad=0.4, framealpha=1,
           edgecolor='#d0d0d0')
letter(1400, 1080, 'I')

axK = mab_panel((1506, 1544, 1903, 1840), 'Post-dose 2', k_stats, k_fliers, (-0.78, 14.4),
                [0, 2, 4, 6, 8, 10, 12, 14], ['0', '2', '4', '6', '8', '10', '12', '14'])
letter(1405, 1537, 'K')
fig.add_artist(Line2D([1511 / W, 1683 / W], [1 - 1974 / H, 1 - 1974 / H], color='#333333', lw=2.5))
fig.add_artist(Line2D([1695 / W, 1873 / W], [1 - 1974 / H, 1 - 1974 / H], color='#333333', lw=2.5))
fig.text(*fxy(1602, 2007), '6666-like\nclonotype', ha='center', va='center', fontsize=13, family=OPEN,
         linespacing=1.5)
fig.text(*fxy(1788, 2005), 'Donor 58\nlineage', ha='center', va='center', fontsize=13, family=OPEN,
         linespacing=1.5)
fig.text(*fxy(1704, 2040), 'mAb', ha='center', va='center', fontsize=14, family=OPEN)

fig.savefig('out.png', dpi=100)
